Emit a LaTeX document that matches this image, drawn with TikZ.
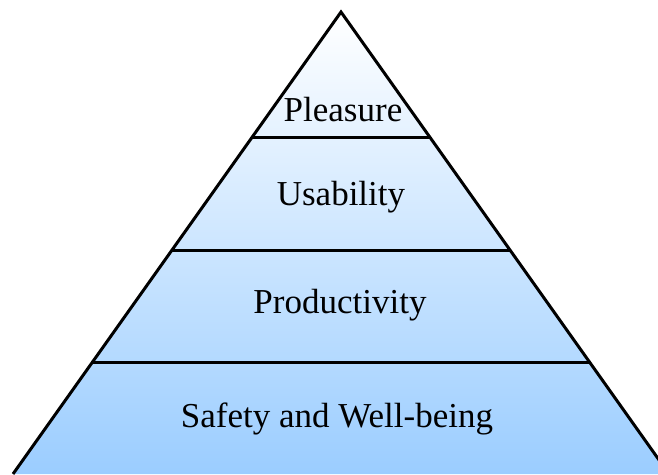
\documentclass[tikz,border=0pt]{standalone}
\usepackage{fontspec}
\setmainfont{Liberation Serif}
\usetikzlibrary{calc}
\definecolor{skyblue}{RGB}{155,205,255}
\tikzset{
  level/.style={font=\fontsize{35}{38}\selectfont, anchor=base, inner sep=0pt},
  edge/.style={draw=black, line width=3pt, line join=miter},
}

\begin{document}
\begin{tikzpicture}[x=1pt,y=-1pt]
\useasboundingbox (0,0) rectangle (658,474);
\clip (0,0) rectangle (658,474);

\coordinate (top) at (341,12);
\coordinate (bl) at (13,474);
\coordinate (br) at (669,474);

% the pyramid, white at the tip to blue at the base
\shade[top color=white, bottom color=skyblue] (top) -- (bl) -- (br) -- cycle;
\path[edge] (bl) -- (top) -- (br);

% dividing lines between the levels
\foreach \t [count=\i] in {0.2706,0.5152,0.7576} {
  \coordinate (l\i) at ($(top)!\t!(bl)$);
  \coordinate (r\i) at ($(top)!\t!(br)$);
  \path[edge] (l\i) -- (r\i);
}

\node[level] (pleasure) at (343,121) {Pleasure};
\node[level] (usability) at (341,205) {Usability};
\node[level] (productivity) at (340,313) {Productivity};
\node[level] (safety) at (337,427) {Safety and Well-being};

\end{tikzpicture}
\end{document}
